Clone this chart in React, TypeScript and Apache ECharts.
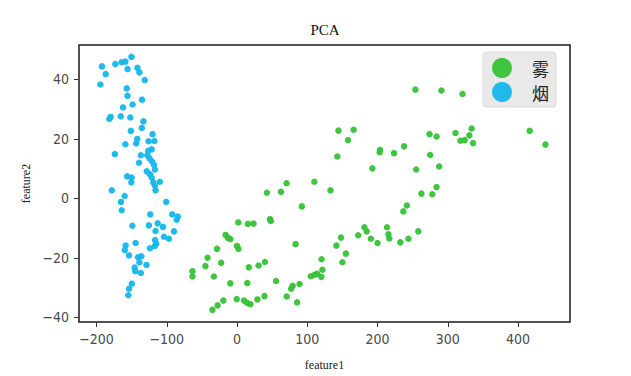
import React, { useEffect, useRef } from "react";
import * as echarts from "echarts";

const seriesNames = ["雾", "烟"];
const xTicks = [-200, -100, 0, 100, 200, 300, 400];
const yTicks = [-40, -20, 0, 20, 40];

const fogPoints: number[][] = [
  [253.9, 36.6], [291, 36.3], [321, 35.1],
  [144.4, 22.8], [166, 23.1], [158, 19.6], [142.7, 14.1],
  [416.6, 22.7], [439, 18.1],
  [274, 21.6], [284, 20.8],
  [311, 22], [334, 23.5], [330.7, 21.2], [318, 19.4], [324, 19.6], [336, 18.6],
  [203, 15.5], [203.5, 16.3], [223.5, 15.2], [237.8, 17.5], [192.6, 10.1], [255, 9.7], [275, 14.6], [287.7, 10.7],
  [284, 3.8], [262.5, 1.6], [278, 1.4], [241.8, -2.4], [236.7, -4.4],
  [110, 5.6], [133, 2.7], [92.3, -2.7], [70.5, 5.1], [42.5, 1.9], [62.5, 2.2],
  [1.7, -8.1], [15.5, -8.6], [23.5, -8.5], [47, -7], [48, -7.6],
  [-16.3, -12.3], [-12.8, -13.3], [-9.5, -13.7], [0, -16], [2, -17], [-28.5, -17],
  [-42, -20], [-45, -22.8], [-22.6, -21.7], [-63.5, -24.5], [-63.5, -26.3], [-33, -26.3],
  [-9.6, -28.6], [16.8, -23.2], [30.6, -22.6], [39.7, -21.4], [14.5, -28.5], [55.5, -27.8], [83.3, -15.4],
  [70.7, -33], [77, -30.4], [79.2, -29.4], [89, -28.8], [85.5, -35],
  [105, -26.2], [110.5, -25.7], [114, -25.4], [120, -26.4], [121.5, -24], [120.3, -20.5],
  [-35, -37.5], [-27.7, -36], [-19.5, -34.4], [-0.5, -33.9], [10, -34.4], [14.5, -35.2], [19, -35.6], [29, -34], [39, -32.9],
  [141.5, -15.9], [148, -13.2], [155, -18.6], [150, -21.5], [172.5, -12.4], [181.3, -9.7], [184.5, -11.1],
  [190.5, -13.6], [200, -15], [213.5, -9.7], [215.5, -12.1], [216.8, -13.5], [232.5, -14.8], [244, -13.6], [258, -11.1],
];

const smokePoints: number[][] = [
  [-194.6, 38.3], [-192.3, 44.4], [-187, 41.8], [-173.3, 45.2], [-164.5, 45.8], [-159, 46], [-155.8, 43.5],
  [-150.3, 47.6], [-141.8, 43.9], [-139, 42.4], [-131.4, 39.8], [-157, 37], [-156, 34.5], [-135.3, 33.2],
  [-148.8, 31.6], [-162.4, 30.6], [-181.8, 26.7], [-180, 27.4], [-165.5, 27.6], [-152, 27.2], [-133.3, 25.9],
  [-135.6, 23.7], [-151.2, 22.7], [-142, 20], [-143.6, 18.5], [-159, 18.2], [-120.3, 21.6], [-126, 19.2],
  [-117.7, 19.3], [-174, 14.9], [-137, 14.5], [-126.5, 16], [-121.5, 16.5], [-127.8, 14.5], [-124.5, 13.4],
  [-121, 12.4], [-139.6, 12], [-118.3, 11.3], [-117, 9.7], [-128.5, 9.1], [-124, 8.1], [-156.5, 7.4],
  [-150, 7], [-150.5, 5.4], [-121.6, 7], [-119.3, 5.4], [-110, 5.6], [-117, 4.3], [-116, 2.7], [-178.3, 2.7],
  [-160, 0.8], [-165.3, -1.2], [-164.2, -4], [-100.8, -1.2], [-123.5, -5.4], [-149, -9.2], [-125.5, -9.1],
  [-113, -8.4], [-105.5, -9.6], [-92.3, -5.4], [-84.3, -6.1], [-86, -7.2], [-89.8, -11.1], [-97, -13.6],
  [-104, -12.9], [-116, -11], [-116.7, -14], [-115, -15.2], [-117, -16], [-124, -16.8], [-144.4, -15],
  [-158.6, -15.9], [-159.8, -17.4], [-153.8, -19.2], [-141, -19.8], [-136.3, -19.5], [-139, -21.6],
  [-128.9, -22.4], [-145.8, -23.3], [-144.8, -24.5], [-136.9, -25.1], [-149.8, -28.7], [-153.8, -30.4],
  [-154.8, -32.6],
];

const colors = ["#36c236", "#15b6ec"];

const fmt = (v: number) => String(v).replace("-", "\u2212");

export default function App() {
  const ref = useRef<HTMLDivElement>(null);
  useEffect(() => {
    if (!ref.current) return;
    const chart = echarts.init(ref.current, undefined, { renderer: "svg" });
    const tickLabelFont = {
      fontFamily: "'DejaVu Sans Condensed', 'Liberation Sans Narrow', sans-serif",
      fontSize: 14,
      color: "#4a4a4a",
    };
    chart.setOption({
      animation: false,
      backgroundColor: "#fff",
      color: colors,
      title: {
        text: "PCA",
        left: 325,
        top: 22,
        padding: 0,
        textAlign: "center",
        textStyle: { fontFamily: "'Liberation Serif', serif", fontSize: 15, fontWeight: "normal", color: "#111" },
      },
      legend: {
        data: seriesNames,
        orient: "vertical",
        left: 483,
        top: 52,
        padding: [6, 7, 5, 9],
        itemWidth: 30,
        itemHeight: 20,
        itemGap: 4,
        icon: "circle",
        backgroundColor: "#e9e9e9",
        borderColor: "#dadada",
        borderWidth: 1,
        borderRadius: 3,
        textStyle: {
          fontFamily: "'Noto Sans CJK SC', sans-serif",
          fontSize: 17,
          color: "#222",
          padding: [0, 0, 0, 10],
        },
      },
      grid: {
        left: 79,
        right: 61,
        top: 45,
        bottom: 41,
        show: true,
        borderColor: "#1a1a1a",
        borderWidth: 1.5,
      },
      xAxis: {
        type: "value",
        min: -225,
        max: 474,
        name: "feature1",
        nameLocation: "middle",
        nameGap: 37,
        nameTextStyle: { fontFamily: "'Liberation Serif', serif", fontSize: 12, color: "#222" },
        splitLine: { show: false },
        axisLine: { show: false, onZero: false },
        axisTick: { show: true, inside: false, length: 5, lineStyle: { color: "#333" }, customValues: xTicks },
        axisLabel: { ...tickLabelFont, margin: 10, customValues: xTicks, formatter: fmt },
      },
      yAxis: {
        type: "value",
        min: -41.6,
        max: 51.6,
        name: "feature2",
        nameLocation: "middle",
        nameGap: 47,
        nameTextStyle: { fontFamily: "'Liberation Serif', serif", fontSize: 12, color: "#222" },
        splitLine: { show: false },
        axisLine: { show: false, onZero: false },
        axisTick: { show: true, inside: false, length: 5, lineStyle: { color: "#333" }, customValues: yTicks },
        axisLabel: { ...tickLabelFont, margin: 10, customValues: yTicks, formatter: fmt },
      },
      series: [
        {
          name: seriesNames[0],
          type: "scatter",
          data: fogPoints,
          symbolSize: 6.5,
          itemStyle: { color: colors[0], opacity: 0.95 },
        },
        {
          name: seriesNames[1],
          type: "scatter",
          data: smokePoints,
          symbolSize: 6.5,
          itemStyle: { color: colors[1], opacity: 0.95 },
        },
      ],
    });
    return () => chart.dispose();
  }, []);
  return (
    <div
      ref={ref}
      style={{ position: "fixed", left: 0, top: 0, width: 631, height: 376, background: "#fff" }}
    />
  );
}
